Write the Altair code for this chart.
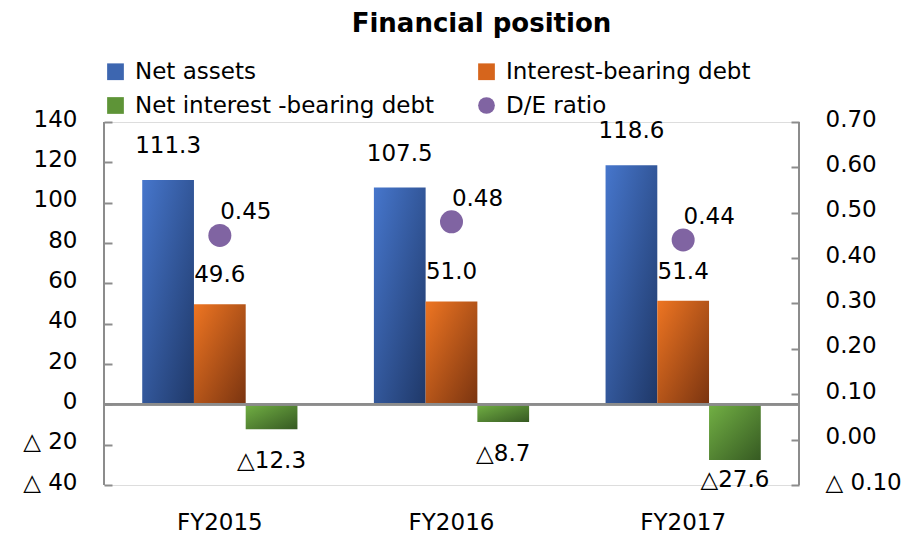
import altair as alt
import pandas as pd

categories = ["FY2015", "FY2016", "FY2017"]
series_names = ["Net assets", "Interest-bearing debt", "Net interest -bearing debt", "D/E ratio"]
net_assets = [111.3, 107.5, 118.6]
interest_bearing_debt = [49.6, 51.0, 51.4]
net_interest_bearing_debt = [-12.3, -8.7, -27.6]
de_ratio = [0.45, 0.48, 0.44]
left_ticks = [-40, -20, 0, 20, 40, 60, 80, 100, 120, 140]
right_ticks = [-0.1, 0.0, 0.1, 0.2, 0.3, 0.4, 0.5, 0.6, 0.7]

FONT = "DejaVu Sans"
GRAY = "#8C8C8C"
bar_series = series_names[:3]

rows = []
for s, vals in zip(bar_series, [net_assets, interest_bearing_debt, net_interest_bearing_debt]):
    for c, v in zip(categories, vals):
        rows.append({"year": c, "series": s, "value": v})
bars_df = pd.DataFrame(rows)
de_df = pd.DataFrame({"year": categories, "series": ["D/E ratio"] * 3, "ratio": de_ratio})


def grad(c1, c2):
    return {"gradient": "linear", "x1": 0, "y1": 0, "x2": 1, "y2": 1,
            "stops": [{"offset": 0, "color": c1}, {"offset": 1, "color": c2}]}


gradients = {
    "Net assets": grad("#4676CC", "#1F3868"),
    "Interest-bearing debt": grad("#EE7522", "#7A3410"),
    "Net interest -bearing debt": grad("#72B044", "#365A22"),
}

x_enc = alt.X("year:N",
              scale=alt.Scale(domain=categories, paddingInner=0.33, paddingOuter=0.165),
              axis=alt.Axis(title=None, domain=False, ticks=False, labelAngle=0,
                            labelFontSize=23, labelFont=FONT, labelColor="#000000",
                            labelPadding=26))
xoff = alt.XOffset("series:N", scale=alt.Scale(domain=bar_series, paddingInner=0, paddingOuter=0))

left_axis = alt.Axis(title=None, values=left_ticks, domain=False, offset=-8, tickSize=8,
                     tickColor=GRAY, tickWidth=2, labelPadding=27, labelFontSize=23,
                     labelFont=FONT, labelColor="#000000", labelOffset=-3, grid=False,
                     labelExpr="datum.value < 0 ? '△ ' + format(-datum.value, 'd') : format(datum.value, 'd')")
left_scale = alt.Scale(domain=[-40, 140], nice=False, zero=False)

right_axis = alt.Axis(title=None, orient="right", values=right_ticks, domain=False, offset=-8,
                      tickSize=8, tickColor=GRAY, tickWidth=2, labelPadding=26, labelFontSize=23,
                      labelFont=FONT, labelColor="#000000", labelOffset=-3, grid=False,
                      labelExpr="datum.value < -0.001 ? '△ ' + format(-datum.value, '.2f') : format(datum.value, '.2f')")
right_scale = alt.Scale(domain=[-0.1, 0.7], nice=False, zero=False)

base = alt.Chart(bars_df)

bar_layers = []
for s in bar_series:
    bar_layers.append(
        base.transform_filter(alt.datum.series == s)
        .mark_bar(fill=gradients[s], stroke=None)
        .encode(x=x_enc, xOffset=xoff,
                y=alt.Y("value:Q", scale=left_scale, axis=left_axis))
    )

zero_rule = alt.Chart(bars_df).mark_rule(color=GRAY, strokeWidth=2).encode(
    y=alt.datum(0, scale=left_scale, axis=left_axis))

left_domain = alt.Chart(bars_df).mark_rule(color=GRAY, strokeWidth=2).encode(
    x=alt.value(0), y=alt.value(0), y2=alt.value("height"))
right_domain = alt.Chart(bars_df).mark_rule(color=GRAY, strokeWidth=2).encode(
    x=alt.value("width"), y=alt.value(0), y2=alt.value("height"))

txt_props = dict(font=FONT, fontSize=23, color="#000000", baseline="middle", align="center")

blue_txt = base.transform_filter(alt.datum.series == "Net assets").mark_text(dy=-34, **txt_props).encode(
    x=x_enc, xOffset=xoff, y=alt.Y("value:Q", scale=left_scale, axis=left_axis),
    text=alt.Text("value:Q", format=".1f"))
orange_txt = base.transform_filter(alt.datum.series == "Interest-bearing debt").mark_text(dy=-29, **txt_props).encode(
    x=x_enc, xOffset=xoff, y=alt.Y("value:Q", scale=left_scale, axis=left_axis),
    text=alt.Text("value:Q", format=".1f"))
green_txt = (base.transform_filter(alt.datum.series == "Net interest -bearing debt")
             .transform_calculate(label_y="max(datum.value - 16, -37.5)",
                                  label_txt="'△' + format(-datum.value, '.1f')")
             .mark_text(**txt_props)
             .encode(x=x_enc, xOffset=xoff,
                     y=alt.Y("label_y:Q", scale=left_scale, axis=left_axis),
                     text="label_txt:N"))

left = alt.layer(*bar_layers, zero_rule, blue_txt, orange_txt, green_txt, left_domain, right_domain)

legend = alt.Legend(title=None, orient="none", legendX=0, legendY=-62, columns=2,
                    direction="horizontal",
                    columnPadding=40, rowPadding=10, labelFontSize=23, labelFont=FONT,
                    labelColor="#000000", labelLimit=500, labelOffset=8, symbolSize=280,
                    symbolStrokeWidth=0, symbolOpacity=1, padding=0)

points = alt.Chart(de_df).mark_point(filled=True, size=529, opacity=1).encode(
    x=x_enc,
    y=alt.Y("ratio:Q", scale=right_scale, axis=right_axis),
    color=alt.Color("series:N",
                    scale=alt.Scale(domain=series_names,
                                    range=["#3D66B0", "#D6651C", "#5E9437", "#8064A2"]),
                    legend=legend),
    shape=alt.Shape("series:N",
                    scale=alt.Scale(domain=series_names,
                                    range=["square", "square", "square", "circle"]),
                    legend=legend),
)
de_txt = alt.Chart(de_df).mark_text(dx=26, dy=-23, **txt_props).encode(
    x=x_enc,
    y=alt.Y("ratio:Q", scale=right_scale, axis=right_axis),
    text=alt.Text("ratio:Q", format=".2f"))

right = alt.layer(points, de_txt)

chart = (
    alt.layer(left, right)
    .resolve_scale(y="independent")
    .properties(
        width=695, height=363,
        autosize=alt.AutoSizeParams(type="none"),
        padding={"left": 96, "top": 114, "right": 107, "bottom": 48},
        title=alt.Title("Financial position", fontSize=26, fontWeight="bold", font=FONT,
                        color="#000000", anchor="middle", dx=30, offset=23),
    )
    .configure_view(stroke=None)
    .configure(background="white")
)

chart.save("out.html", embed_options={"renderer": "svg", "actions": False})
